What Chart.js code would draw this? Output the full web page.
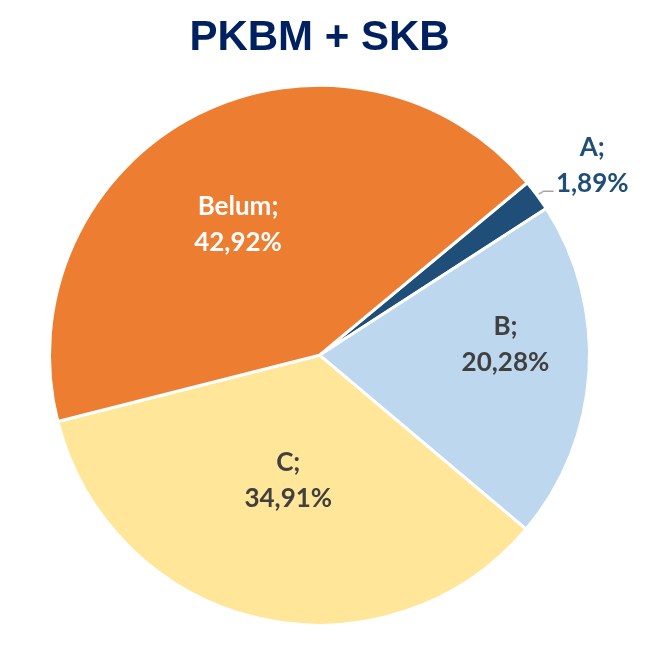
<!DOCTYPE html>
<html>
<head>
<meta charset="utf-8">
<script src="https://cdn.jsdelivr.net/npm/chart.js@4.4.0/dist/chart.umd.min.js"></script>
<style>
  html, body { margin: 0; padding: 0; background: #fff; }
  #wrap { width: 658px; height: 651px; }
</style>
</head>
<body>
<div id="wrap"><canvas id="chart1"></canvas></div>
<script>
const categories = ['A', 'B', 'C', 'Belum'];
const percentages = [1.89, 20.28, 34.91, 42.92];
const sliceColors = ['#1F4E79', '#BDD7EE', '#FFE699', '#ED7D31'];
const labelColors = ['#1F4E79', '#404040', '#404040', '#FFFFFF'];

// where each label sits: fraction of radius + small angle shift (degrees)
const labelPlace = [
  { r: 1.23, shift: 1.5, outside: true },
  { r: 0.69, shift: -7 },
  { r: 0.48, shift: 1 },
  { r: 0.57, shift: -5 }
];

const fmt = v => v.toFixed(2).replace('.', ',') + '%';

const sliceLabels = {
  id: 'sliceLabels',
  afterDatasetsDraw(chart) {
    const ctx = chart.ctx;
    const meta = chart.getDatasetMeta(0);
    ctx.save();
    ctx.font = 'bold 26px Lato, "Open Sans", sans-serif';
    ctx.textAlign = 'center';
    ctx.textBaseline = 'middle';
    meta.data.forEach((arc, i) => {
      const p = arc.getProps(['x', 'y', 'startAngle', 'endAngle', 'outerRadius'], true);
      const mid = (p.startAngle + p.endAngle) / 2;
      const a = mid + labelPlace[i].shift * Math.PI / 180;
      const r = p.outerRadius * labelPlace[i].r;
      const lx = p.x + Math.cos(a) * r;
      const ly = p.y + Math.sin(a) * r;
      if (labelPlace[i].outside) {
        const ex = p.x + Math.cos(mid) * (p.outerRadius + 2);
        const ey = p.y + Math.sin(mid) * (p.outerRadius + 2);
        ctx.strokeStyle = '#A6A6A6';
        ctx.lineWidth = 1.5;
        ctx.beginPath();
        ctx.moveTo(ex, ey);
        ctx.lineTo(ex + 5, ey - 3);
        ctx.lineTo(ex + 15, ey - 3);
        ctx.stroke();
      }
      ctx.fillStyle = labelColors[i];
      ctx.fillText(categories[i] + ';', lx, ly - 18);
      ctx.fillText(fmt(percentages[i]), lx, ly + 18);
    });
    ctx.restore();
  }
};

const ctx1 = document.getElementById('chart1').getContext('2d');

const chart1 = new Chart(ctx1, {
  type: 'pie',
  data: {
    labels: categories,
    datasets: [{
      data: percentages,
      backgroundColor: sliceColors,
      borderColor: '#FFFFFF',
      borderWidth: 3
    }]
  },
  options: {
    responsive: true,
    maintainAspectRatio: false,
    animation: false,
    rotation: 50.3,
    layout: { padding: { left: 48, right: 67, top: 0, bottom: 24 } },
    plugins: {
      legend: { display: false },
      tooltip: { enabled: false },
      title: {
        display: true,
        text: 'PKBM + SKB',
        color: '#002060',
        font: { family: '"Liberation Sans", Arial, sans-serif', size: 42, weight: 'bold' },
        padding: { top: 13, bottom: 20 }
      }
    }
  },
  plugins: [sliceLabels]
});
</script>
</body>
</html>
